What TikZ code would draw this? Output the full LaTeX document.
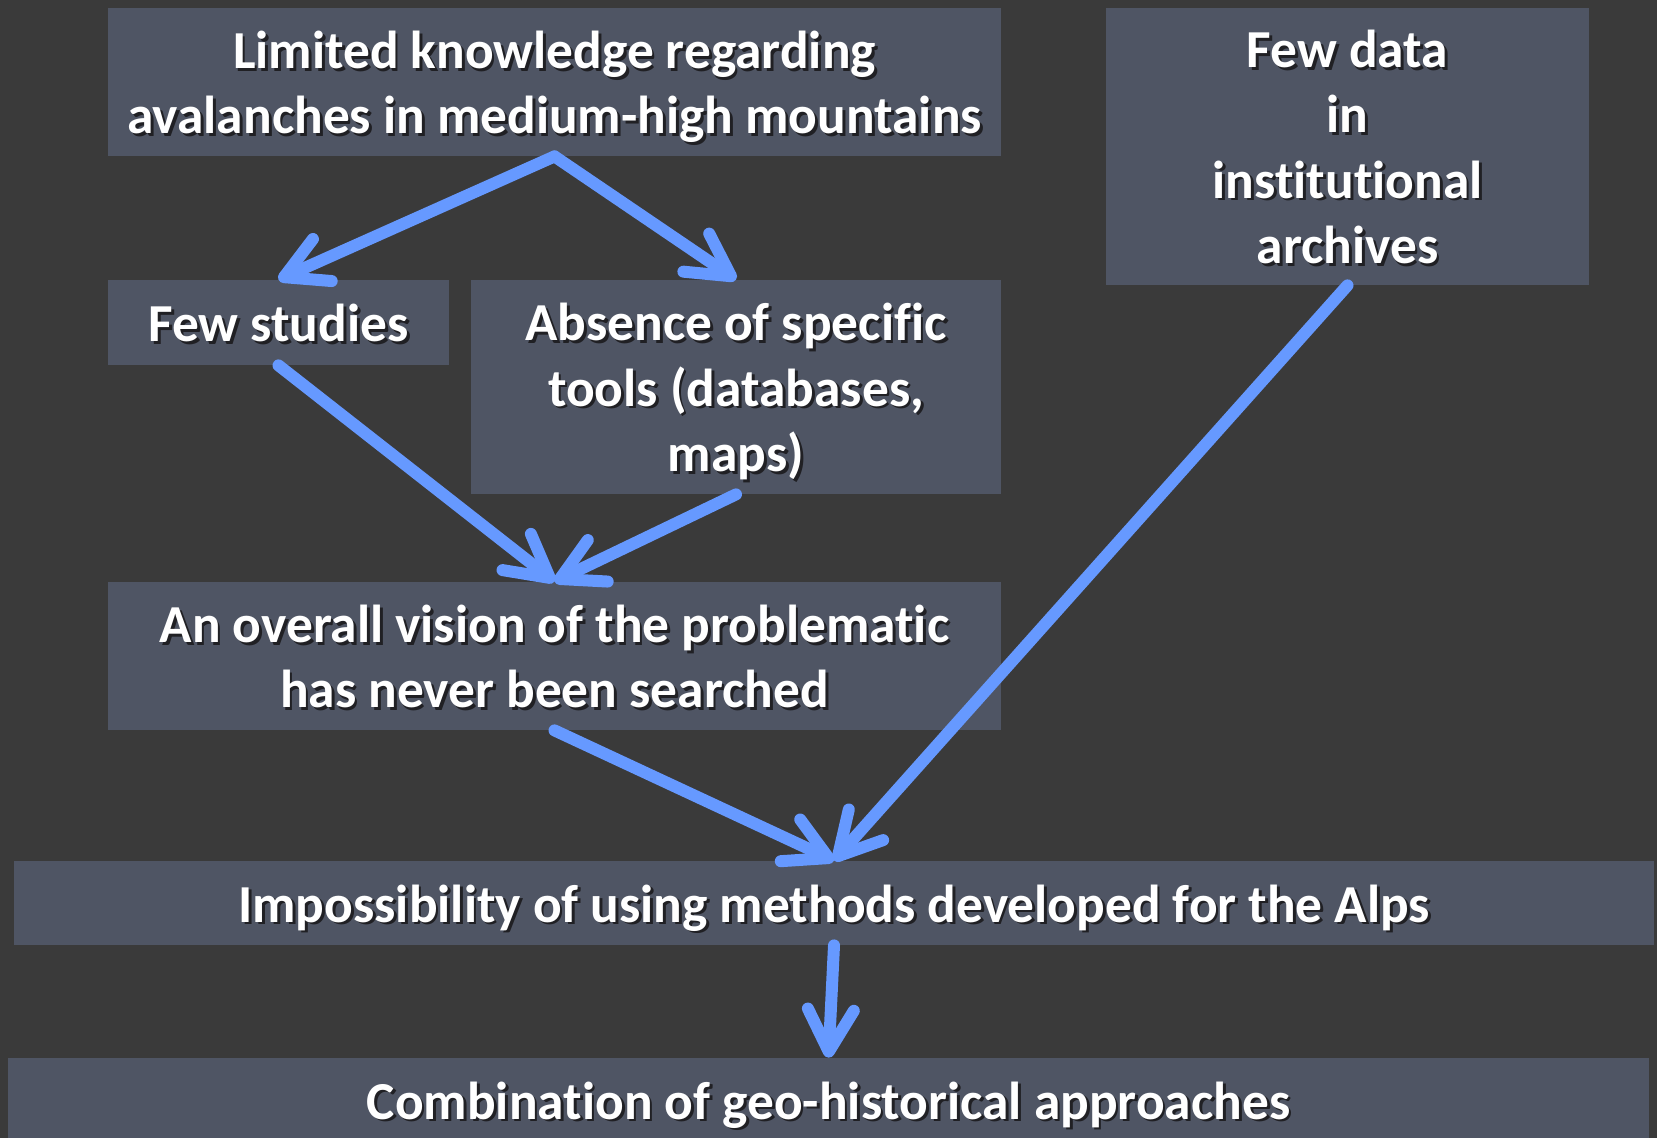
\documentclass[tikz,border=0pt]{standalone}
\usepackage{fontspec}
\setmainfont{Carlito}[Ligatures={NoCommon,NoRare,NoContextual}]
\usetikzlibrary{arrows.meta}
\definecolor{bgc}{RGB}{58,58,58}
\definecolor{boxc}{RGB}{79,85,100}
\definecolor{arrc}{RGB}{102,153,255}
\definecolor{shc}{RGB}{32,32,36}
\newcommand\shl[1]{\makebox[0pt][l]{\kern1.4pt\raisebox{-1.4pt}{\textcolor{shc}{#1}}}#1}
\newcommand\tx[1]{\raisebox{-3pt}[\height][\depth]{\begin{tabular}{@{}c@{}}#1\end{tabular}}}
\tikzset{
  boxn/.style={fill=boxc, draw=none, inner sep=0pt, text=white,
    font=\fontsize{26.7}{32.6}\selectfont\bfseries},
  arr/.style={draw=arrc, line width=6pt, line cap=round,
    -{Straight Barb[length=21pt,width=23pt,line cap=round,round]}}
}
\begin{document}
\begin{tikzpicture}[x=0.5pt,y=-0.5pt]
\fill[bgc] (0,0) rectangle (1657,1138);
\useasboundingbox (0,0) rectangle (1657,1138);
\node[boxn, minimum width=446.5pt, minimum height=74pt] (b1) at (554.5,82)
  {\tx{\shl{Limited knowledge regarding}\\\shl{avalanches in medium-high mountains}}};
\node[boxn, minimum width=241.5pt, minimum height=138.5pt] (fd) at (1347.5,146.5)
  {\tx{\shl{Few data}\\\shl{in}\\\shl{institutional}\\\shl{archives}}};
\node[boxn, minimum width=170.5pt, minimum height=42.5pt] (fs) at (278.5,322.5)
  {\tx{\shl{Few studies}}};
\node[boxn, minimum width=265pt, minimum height=107pt] (ab) at (736,387)
  {\tx{\shl{Absence of specific}\\\shl{tools (databases,}\\\shl{maps)}}};
\node[boxn, minimum width=446.5pt, minimum height=74pt] (ov) at (554.5,656)
  {\tx{\shl{An overall vision of the problematic}\\\shl{has never been searched}}};
\node[boxn, minimum width=820pt, minimum height=42pt] (im) at (834,903)
  {\tx{\shl{Impossibility of using methods developed for the Alps}}};
\node[boxn, minimum width=820.5pt, minimum height=42pt] (co) at (828.5,1100)
  {\tx{\shl{Combination of geo-historical approaches}}};
\draw[arr] (b1.south) -- (fs.north);
\draw[arr] (b1.south) -- (ab.north);
\draw[arr] (fs.south) -- (ov.north);
\draw[arr] (ab.south) -- (ov.north);
\draw[arr] (ov.south) -- (im.north);
\draw[arr] (fd.south) -- (im.north);
\draw[arr] (im.south) -- (co.north);
\end{tikzpicture}
\end{document}
